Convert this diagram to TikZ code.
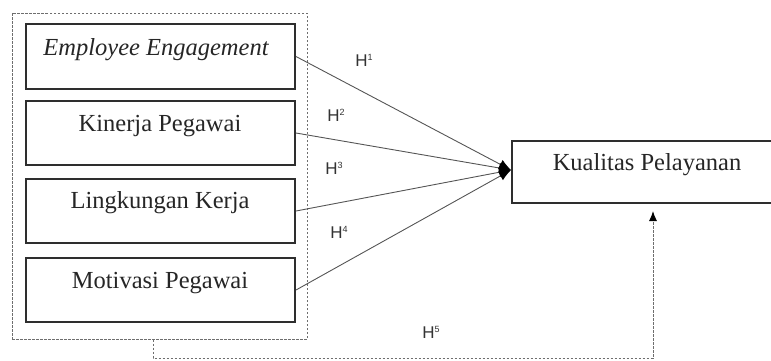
\documentclass[tikz,border=0pt]{standalone}
\usepackage{fontspec}
\setmainfont{Liberation Serif}
\newfontfamily\hfont{Liberation Sans}
\usetikzlibrary{arrows.meta}
\definecolor{boxc}{HTML}{2E2E2E}
\definecolor{linec}{HTML}{555555}
\definecolor{dotc}{HTML}{6E6E6E}
\newcommand{\hsup}[1]{\raisebox{6pt}{\fontsize{9}{9}\selectfont #1}}
\tikzset{
  varbox/.style={draw=boxc, line width=2pt, fill=white, rectangle, inner sep=0pt},
  vartext/.style={font=\fontsize{24.5}{28}\selectfont, text=black!85, inner sep=0pt, anchor=center},
  hlab/.style={font=\hfont\fontsize{17}{20}\selectfont, text=black!80, inner sep=0pt},
  conn/.style={draw=linec, line width=0.9pt, -{Latex[length=12pt,width=10pt,color=black]}},
  dotline/.style={draw=dotc, line width=1pt, dash pattern=on 2.5pt off 1.5pt},
}
\begin{document}
\begin{tikzpicture}[x=1pt,y=-1pt]
\useasboundingbox (0,0) rectangle (771,360);
% outer dotted frame
\node[dotline, rectangle, minimum width=295pt, minimum height=326pt, inner sep=0pt] (frame) at (159.5,176) {};
% independent variable boxes
\node[varbox, minimum width=269pt, minimum height=65pt] (b1) at (160.5,56.5) {};
\node[varbox, minimum width=269pt, minimum height=64pt] (b2) at (160.5,133) {};
\node[varbox, minimum width=269pt, minimum height=64pt] (b3) at (160.5,211) {};
\node[varbox, minimum width=269pt, minimum height=64pt] (b4) at (160.5,290) {};
\node[vartext] (t1) at (156,50) {\itshape Employee Engagement};
\node[vartext] (t2) at (160,126) {Kinerja Pegawai};
\node[vartext] (t3) at (160,203) {Lingkungan Kerja};
\node[vartext] (t4) at (160,283) {Motivasi Pegawai};
% dependent variable
\node[varbox, minimum width=262pt, minimum height=62pt] (kq) at (643,172) {};
\node[vartext] (tk) at (647,165) {Kualitas Pelayanan};
% connectors
\coordinate (kin) at (511,170);
\draw[conn] (b1.east) -- (kin);
\draw[conn] (b2.east) -- (kin);
\draw[conn] (b3.east) -- (kin);
\draw[conn] (b4.east) -- (kin);
% labels
\node[hlab] (h1) at (364,60) {H\hsup{1}};
\node[hlab] (h2) at (336,115) {H\hsup{2}};
\node[hlab] (h3) at (334,168) {H\hsup{3}};
\node[hlab] (h4) at (339,232) {H\hsup{4}};
\node[hlab] (h5) at (431,332) {H\hsup{5}};
% dashed path H5
\coordinate (c1) at (153,358);
\coordinate (c2) at (653,358);
\coordinate (tip) at (653,211);
\draw[dotline, -{Latex[length=10pt,width=8pt,color=black]}] (frame.south -| c1) -- (c1) -- (c2) -- (tip);
\end{tikzpicture}
\end{document}
